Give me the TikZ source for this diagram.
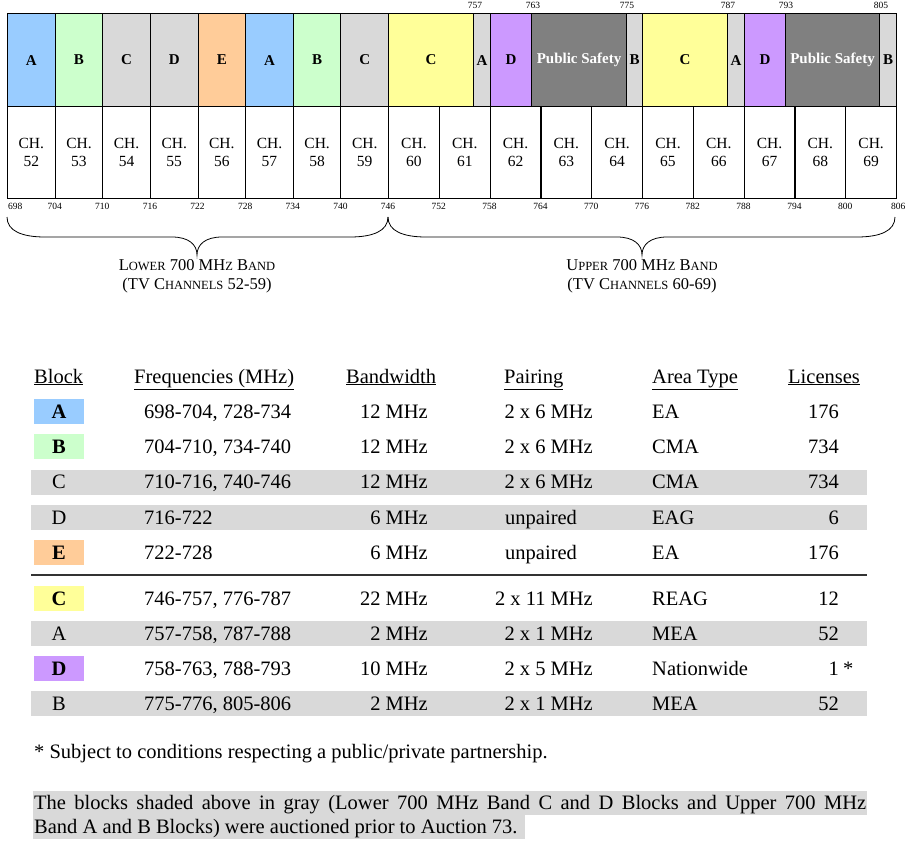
\documentclass[tikz,border=0pt]{standalone}
\usepackage{fontspec}
\setmainfont{Liberation Serif}
\usepackage{tikz}
\usepackage{xcolor}

\definecolor{blockA}{HTML}{99CCFF}
\definecolor{blockB}{HTML}{CCFFCC}
\definecolor{blockC}{HTML}{FFFF99}
\definecolor{blockD}{HTML}{CC99FF}
\definecolor{blockE}{HTML}{FFCC99}
\definecolor{oldblock}{HTML}{D9D9D9}
\definecolor{safety}{HTML}{808080}

\newcommand{\smc}[1]{{\fontsize{12.5}{14}\selectfont #1}}
\newcommand{\tabfont}{\fontsize{20.5}{24}\selectfont}

\tikzset{
  band/.style={draw, line width=1.1pt, inner sep=0pt},
  blklabel/.style={font=\fontsize{15}{17}\selectfont\bfseries},
  chlabel/.style={font=\fontsize{15.5}{18}\selectfont, align=center},
  mhz/.style={font=\fontsize{9.5}{10}\selectfont, inner sep=0pt},
  caption/.style={font=\fontsize{16.5}{19}\selectfont, align=center},
  cell/.style={font=\tabfont, inner sep=0pt}
}

\begin{document}
\begin{tikzpicture}[x=1pt, y=-1pt]
        \useasboundingbox (0,0) rectangle (906,849);

        % Lower band blocks
        \foreach \blk/\col [count=\i from 0] in {A/blockA, B/blockB, C/oldblock, D/oldblock, E/blockE, A/blockA, B/blockB, C/oldblock}
            \node[band, blklabel, fill=\col, minimum width=47.625pt, minimum height=93pt, anchor=north west] (low\i) at ({7+47.625*\i},13) {\blk};

        % Upper band blocks
        \foreach \xa/\xb/\blk/\col/\tcol [count=\i] in {388/473/C/blockC/black, 473/490/A/oldblock/black, 490/531/D/blockD/black, 531/626/Public Safety/safety/white, 626/642/B/oldblock/black, 642/727/C/blockC/black, 727/744/A/oldblock/black, 744/785/D/blockD/black, 785/879/Public Safety/safety/white, 879/896/B/oldblock/black}
            \node[band, blklabel, fill=\col, text=\tcol, minimum width={(\xb-\xa)*1pt}, minimum height=93pt, anchor=north west] (up\i) at (\xa,13) {\blk};

        % Channels
        \foreach \n [count=\i from 0] in {52,...,59}
            \node[band, chlabel, minimum width=47.625pt, minimum height=92pt, anchor=north west] (ch\n) at ({7+47.625*\i},106) {CH.\\\n};
        \foreach \n [count=\i from 0] in {60,...,69}
            \node[band, chlabel, minimum width=50.8pt, minimum height=92pt, anchor=north west] (ch\n) at ({388+50.8*\i},106) {CH.\\\n};

        % Frequency marks
        \node[mhz, anchor=west] (f698) at (8,206) {698};
        \foreach \f [count=\i] in {704,710,...,746}
            \node[mhz] (f\f) at ({7+47.625*\i},206) {\f};
        \foreach \f [count=\i] in {752,758,...,800}
            \node[mhz] (f\f) at ({388+50.8*\i},206) {\f};
        \node[mhz, anchor=east] (f806) at (905.5,206) {806};
        \foreach \f/\x in {757/475, 763/533, 775/627, 787/728, 793/786, 805/881}
            \node[mhz] (t\f) at (\x,5) {\f};

        % Braces
        \draw[line width=0.8pt] (7,217) .. controls (7,231) and (22,237) .. (45,237) -- (172,237)
            .. controls (188,237) and (197,244) .. (197,255) .. controls (197,244) and (206,237) .. (222,237)
            -- (350,237) .. controls (373,237) and (388,231) .. (388,217);
        \draw[line width=0.8pt] (388,217) .. controls (388,231) and (403,237) .. (426,237) -- (617,237)
            .. controls (633,237) and (642,244) .. (642,255) .. controls (642,244) and (651,237) .. (667,237)
            -- (857,237) .. controls (880,237) and (895,231) .. (895,217);
        \node[caption] (lowcap) at (197,276) {L\smc{OWER} 700 MH\smc{Z} B\smc{AND}\\(TV C\smc{HANNELS} 52-59)};
        \node[caption] (upcap) at (642,276) {U\smc{PPER} 700 MH\smc{Z} B\smc{AND}\\(TV C\smc{HANNELS} 60-69)};

        % Table shading
        \foreach \y in {482.1, 517.3, 633.5, 703.5}
            \fill[oldblock] (31,{\y-12.5}) rectangle (867,{\y+12.5});
        \foreach \y/\col in {411.7/blockA, 446.9/blockB, 552.5/blockE, 598.5/blockC, 668.5/blockD}
            \fill[\col] (34,{\y-12.5}) rectangle (84,{\y+12.5});
        \draw[line width=1.4pt, black!80] (31,575) -- (867,575);

        % Table header
        \foreach \x/\h [count=\i] in {34/Block, 134/Frequencies (MHz), 346/Bandwidth, 504/Pairing, 652/Area Type, 788/Licenses}
            \node[cell, anchor=base west] (head\i) at (\x,383) {\underline{\h}};

        % Table rows
        \foreach \y/\blk/\wt/\fr/\bw/\pr/\pa/\px/\ar/\li [count=\i] in {
            411.7/A/\bfseries/{698-704, 728-734}/12 MHz/2 x 6 MHz/base east/593/EA/176,
            446.9/B/\bfseries/{704-710, 734-740}/12 MHz/2 x 6 MHz/base east/593/CMA/734,
            482.1/C/\mdseries/{710-716, 740-746}/12 MHz/2 x 6 MHz/base east/593/CMA/734,
            517.3/D/\mdseries/716-722/6 MHz/unpaired/base west/505/EAG/6,
            552.5/E/\bfseries/722-728/6 MHz/unpaired/base west/505/EA/176,
            598.5/C/\bfseries/{746-757, 776-787}/22 MHz/2 x 11 MHz/base east/593/REAG/12,
            633.5/A/\mdseries/{757-758, 787-788}/2 MHz/2 x 1 MHz/base east/593/MEA/52,
            668.5/D/\bfseries/{758-763, 788-793}/10 MHz/2 x 5 MHz/base east/593/Nationwide/1,
            703.5/B/\mdseries/{775-776, 805-806}/2 MHz/2 x 1 MHz/base east/593/MEA/52}
        {
            \node[cell, font=\tabfont\wt, anchor=base] (blk\i) at (59,{\y+6.8}) {\blk};
            \node[cell, anchor=base west] (fr\i) at (144,{\y+6.8}) {\fr};
            \node[cell, anchor=base east] (bw\i) at (428,{\y+6.8}) {\bw};
            \node[cell, anchor=\pa] (pr\i) at (\px,{\y+6.8}) {\pr};
            \node[cell, anchor=base west] (ar\i) at (652,{\y+6.8}) {\ar};
            \node[cell, anchor=base east] (li\i) at (839,{\y+6.8}) {\li};
        }
        \node[cell, anchor=base west] (star) at (843,675.3) {*};

        % Notes
        \node[cell, anchor=base west] (note) at (34,758) {* Subject to conditions respecting a public/private partnership.};
        \fill[oldblock] (33,791) rectangle (867,815);
        \fill[oldblock] (33,815) rectangle (525,839);
        \node[cell, anchor=base west] (para1) at (34,809) {\makebox[832pt][s]{The blocks shaded above in gray (Lower 700 MHz Band C and D Blocks and Upper 700 MHz}};
        \node[cell, anchor=base west] (para2) at (34,833) {Band A and B Blocks) were auctioned prior to Auction 73.};

\end{tikzpicture}
\end{document}
